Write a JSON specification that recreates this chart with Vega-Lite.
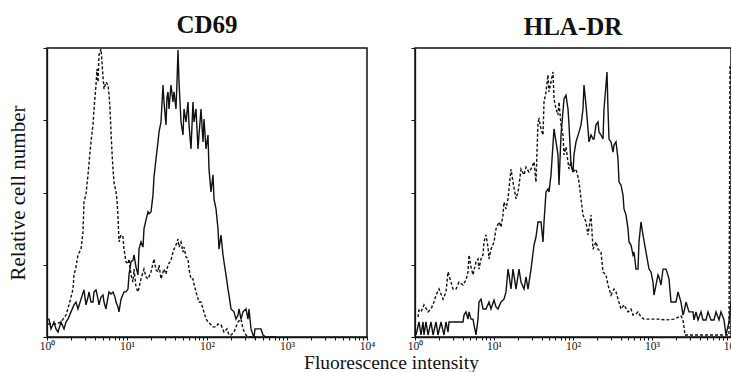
{
  "$schema": "https://vega.github.io/schema/vega-lite/v6.json",
  "background": "white",
  "padding": {"left": 6, "top": 12, "right": 0, "bottom": 0},
  "bounds": "flush",
  "spacing": 48,
  "config": {
    "font": "Liberation Serif",
    "view": {"stroke": "#111", "strokeWidth": 1.5},
    "axis": {"grid": false, "domainColor": "#111", "domainWidth": 1.3, "tickColor": "#111", "labelColor": "#111", "titleColor": "#111", "labelFont": "Liberation Serif", "titleFont": "Liberation Serif", "titleFontWeight": "normal"},
    "title": {"font": "Liberation Serif", "fontSize": 25, "fontWeight": "bold", "color": "#111"},
    "line": {"color": "#111", "strokeWidth": 1.4, "clip": true}
  },
  "datasets": {
    "cd69_control": [
      {"intensity":1.03,"cells":4.5},{"intensity":1.296,"cells":4.5},{"intensity":1.496,"cells":5.2},{"intensity":1.728,"cells":7.6},{"intensity":1.884,"cells":11.1},{"intensity":1.995,"cells":13.8},{"intensity":2.113,"cells":16.6},{"intensity":2.175,"cells":21.5},{"intensity":2.304,"cells":24.2},{"intensity":2.441,"cells":28.4},{"intensity":2.661,"cells":30.4},{"intensity":2.818,"cells":36.3},{"intensity":2.9,"cells":46.7},{"intensity":3.072,"cells":49.5},{"intensity":3.255,"cells":56.1},{"intensity":3.447,"cells":64.0},{"intensity":3.548,"cells":67.5},{"intensity":3.758,"cells":73.4},{"intensity":3.868,"cells":78.9},{"intensity":4.097,"cells":87.2},{"intensity":4.217,"cells":92.7},{"intensity":4.34,"cells":88.2},{"intensity":4.467,"cells":97.6},{"intensity":4.732,"cells":99.7},{"intensity":4.87,"cells":95.2},{"intensity":5.012,"cells":90.0},{"intensity":5.158,"cells":85.8},{"intensity":5.464,"cells":88.2},{"intensity":5.788,"cells":87.2},{"intensity":5.957,"cells":84.1},{"intensity":6.131,"cells":78.9},{"intensity":6.31,"cells":70.9},{"intensity":6.494,"cells":64.0},{"intensity":6.683,"cells":58.1},{"intensity":6.879,"cells":53.6},{"intensity":7.286,"cells":50.2},{"intensity":7.499,"cells":47.4},{"intensity":7.718,"cells":41.5},{"intensity":7.943,"cells":32.9},{"intensity":8.414,"cells":35.3},{"intensity":8.913,"cells":34.6},{"intensity":9.173,"cells":30.4},{"intensity":9.716,"cells":26.0},{"intensity":10.29,"cells":25.3},{"intensity":10.59,"cells":27.0},{"intensity":11.22,"cells":21.5},{"intensity":11.89,"cells":19.0},{"intensity":12.24,"cells":23.5},{"intensity":12.96,"cells":17.3},{"intensity":13.73,"cells":15.6},{"intensity":14.96,"cells":20.1},{"intensity":16.31,"cells":23.5},{"intensity":17.28,"cells":20.8},{"intensity":18.3,"cells":20.1},{"intensity":19.95,"cells":22.5},{"intensity":21.75,"cells":27.0},{"intensity":23.04,"cells":23.2},{"intensity":24.41,"cells":22.5},{"intensity":25.12,"cells":24.9},{"intensity":26.61,"cells":20.1},{"intensity":29.0,"cells":23.5},{"intensity":30.72,"cells":21.8},{"intensity":32.55,"cells":24.9},{"intensity":35.48,"cells":26.6},{"intensity":37.58,"cells":29.4},{"intensity":38.68,"cells":30.4},{"intensity":40.97,"cells":31.8},{"intensity":43.4,"cells":33.9},{"intensity":44.67,"cells":31.1},{"intensity":47.32,"cells":32.9},{"intensity":50.12,"cells":29.4},{"intensity":51.58,"cells":31.1},{"intensity":54.64,"cells":27.7},{"intensity":57.88,"cells":27.0},{"intensity":59.57,"cells":23.5},{"intensity":63.1,"cells":20.1},{"intensity":66.83,"cells":20.1},{"intensity":68.79,"cells":18.3},{"intensity":72.86,"cells":15.6},{"intensity":79.43,"cells":12.1},{"intensity":84.14,"cells":12.1},{"intensity":89.13,"cells":9.7},{"intensity":91.73,"cells":8.7},{"intensity":97.16,"cells":6.2},{"intensity":102.9,"cells":5.2},{"intensity":112.2,"cells":4.2},{"intensity":118.9,"cells":3.5},{"intensity":129.6,"cells":3.5},{"intensity":137.3,"cells":4.5},{"intensity":149.6,"cells":4.2},{"intensity":163.1,"cells":1.7},{"intensity":177.8,"cells":2.8},{"intensity":188.4,"cells":0.7},{"intensity":199.5,"cells":0.7},{"intensity":217.5,"cells":1.7},{"intensity":230.4,"cells":3.5},{"intensity":244.1,"cells":5.2},{"intensity":266.1,"cells":6.2},{"intensity":281.8,"cells":2.8},{"intensity":307.2,"cells":0.7},{"intensity":335.0,"cells":0},{"intensity":421.7,"cells":0}
    ],
    "cd69_treated": [
      {"intensity":1.0,"cells":6.2},{"intensity":1.059,"cells":6.2},{"intensity":1.122,"cells":2.8},{"intensity":1.223,"cells":5.2},{"intensity":1.296,"cells":2.8},{"intensity":1.373,"cells":1.7},{"intensity":1.496,"cells":5.2},{"intensity":1.631,"cells":2.8},{"intensity":1.728,"cells":5.2},{"intensity":1.83,"cells":6.2},{"intensity":1.995,"cells":8.7},{"intensity":2.175,"cells":11.1},{"intensity":2.304,"cells":12.1},{"intensity":2.441,"cells":9.7},{"intensity":2.661,"cells":13.1},{"intensity":2.9,"cells":16.3},{"intensity":3.072,"cells":11.1},{"intensity":3.255,"cells":13.8},{"intensity":3.35,"cells":15.6},{"intensity":3.548,"cells":12.1},{"intensity":3.758,"cells":12.1},{"intensity":3.868,"cells":15.6},{"intensity":4.097,"cells":16.3},{"intensity":4.34,"cells":13.1},{"intensity":4.467,"cells":11.1},{"intensity":4.732,"cells":13.8},{"intensity":5.012,"cells":14.5},{"intensity":5.158,"cells":12.1},{"intensity":5.464,"cells":9.7},{"intensity":5.788,"cells":13.8},{"intensity":5.957,"cells":15.6},{"intensity":6.31,"cells":14.9},{"intensity":6.683,"cells":15.6},{"intensity":7.079,"cells":13.8},{"intensity":7.286,"cells":12.1},{"intensity":7.718,"cells":10.4},{"intensity":7.943,"cells":8.7},{"intensity":8.414,"cells":13.1},{"intensity":9.173,"cells":15.6},{"intensity":9.716,"cells":15.6},{"intensity":10.29,"cells":16.6},{"intensity":10.59,"cells":21.5},{"intensity":11.22,"cells":26.0},{"intensity":11.89,"cells":26.6},{"intensity":12.24,"cells":28.4},{"intensity":12.96,"cells":24.2},{"intensity":13.73,"cells":21.5},{"intensity":14.13,"cells":30.4},{"intensity":14.96,"cells":32.9},{"intensity":15.85,"cells":31.1},{"intensity":16.31,"cells":37.4},{"intensity":17.28,"cells":40.5},{"intensity":18.3,"cells":43.3},{"intensity":18.84,"cells":42.6},{"intensity":19.95,"cells":43.3},{"intensity":21.13,"cells":49.1},{"intensity":21.75,"cells":55.4},{"intensity":23.04,"cells":61.6},{"intensity":24.41,"cells":67.5},{"intensity":25.12,"cells":70.9},{"intensity":26.61,"cells":74.4},{"intensity":28.18,"cells":87.2},{"intensity":29.0,"cells":81.3},{"intensity":30.72,"cells":73.4},{"intensity":31.62,"cells":83.0},{"intensity":32.55,"cells":84.8},{"intensity":33.5,"cells":78.9},{"intensity":35.48,"cells":87.2},{"intensity":37.58,"cells":81.3},{"intensity":38.68,"cells":84.8},{"intensity":40.97,"cells":78.9},{"intensity":42.17,"cells":88.2},{"intensity":43.4,"cells":99.3},{"intensity":44.67,"cells":88.2},{"intensity":47.32,"cells":74.4},{"intensity":50.12,"cells":69.9},{"intensity":51.58,"cells":78.9},{"intensity":54.64,"cells":74.4},{"intensity":57.88,"cells":81.3},{"intensity":59.57,"cells":73.4},{"intensity":63.1,"cells":65.1},{"intensity":66.83,"cells":81.3},{"intensity":68.79,"cells":74.4},{"intensity":72.86,"cells":78.9},{"intensity":77.18,"cells":65.1},{"intensity":79.43,"cells":69.9},{"intensity":84.14,"cells":78.9},{"intensity":89.13,"cells":67.5},{"intensity":91.73,"cells":75.4},{"intensity":97.16,"cells":65.1},{"intensity":102.9,"cells":69.9},{"intensity":105.9,"cells":58.1},{"intensity":112.2,"cells":50.2},{"intensity":118.9,"cells":56.1},{"intensity":122.3,"cells":47.8},{"intensity":129.6,"cells":44.3},{"intensity":137.3,"cells":37.4},{"intensity":141.3,"cells":30.4},{"intensity":149.6,"cells":35.3},{"intensity":158.5,"cells":28.4},{"intensity":163.1,"cells":26.0},{"intensity":172.8,"cells":21.5},{"intensity":183.0,"cells":16.6},{"intensity":188.4,"cells":14.5},{"intensity":199.5,"cells":9.7},{"intensity":217.5,"cells":8.7},{"intensity":230.4,"cells":6.2},{"intensity":244.1,"cells":7.6},{"intensity":251.2,"cells":9.7},{"intensity":266.1,"cells":6.2},{"intensity":281.8,"cells":8.7},{"intensity":307.2,"cells":9.7},{"intensity":325.5,"cells":6.2},{"intensity":335.0,"cells":9.7},{"intensity":354.8,"cells":2.8},{"intensity":375.8,"cells":0.7},{"intensity":386.8,"cells":0},{"intensity":398.1,"cells":2.8},{"intensity":473.2,"cells":2.8},{"intensity":501.2,"cells":0.7},{"intensity":546.4,"cells":0},{"intensity":728.6,"cells":0}
    ],
    "hladr_control": [
      {"intensity":1.091,"cells":6.9},{"intensity":1.124,"cells":9.3},{"intensity":1.191,"cells":8.7},{"intensity":1.3,"cells":11.1},{"intensity":1.461,"cells":8.7},{"intensity":1.594,"cells":9.7},{"intensity":1.74,"cells":12.1},{"intensity":1.845,"cells":14.5},{"intensity":2.013,"cells":16.6},{"intensity":2.134,"cells":14.9},{"intensity":2.262,"cells":13.1},{"intensity":2.469,"cells":15.6},{"intensity":2.617,"cells":22.5},{"intensity":2.855,"cells":19.0},{"intensity":3.027,"cells":16.6},{"intensity":3.304,"cells":16.6},{"intensity":3.606,"cells":19.0},{"intensity":4.052,"cells":18.0},{"intensity":4.422,"cells":19.7},{"intensity":4.688,"cells":22.5},{"intensity":4.826,"cells":28.4},{"intensity":5.115,"cells":24.2},{"intensity":5.423,"cells":21.5},{"intensity":5.918,"cells":26.0},{"intensity":6.273,"cells":27.0},{"intensity":6.459,"cells":23.5},{"intensity":6.846,"cells":27.0},{"intensity":7.257,"cells":28.4},{"intensity":7.471,"cells":32.9},{"intensity":7.918,"cells":35.3},{"intensity":8.397,"cells":31.1},{"intensity":8.645,"cells":27.0},{"intensity":9.164,"cells":30.4},{"intensity":10.0,"cells":32.9},{"intensity":10.6,"cells":37.4},{"intensity":11.57,"cells":39.8},{"intensity":12.26,"cells":38.1},{"intensity":13.0,"cells":42.2},{"intensity":13.38,"cells":46.7},{"intensity":14.19,"cells":44.3},{"intensity":15.04,"cells":47.8},{"intensity":15.48,"cells":51.2},{"intensity":16.42,"cells":58.1},{"intensity":17.4,"cells":53.6},{"intensity":18.99,"cells":47.8},{"intensity":20.13,"cells":50.2},{"intensity":20.73,"cells":52.6},{"intensity":21.97,"cells":58.1},{"intensity":23.98,"cells":56.1},{"intensity":25.42,"cells":58.8},{"intensity":27.73,"cells":57.1},{"intensity":29.41,"cells":58.1},{"intensity":32.09,"cells":60.6},{"intensity":34.01,"cells":53.6},{"intensity":36.06,"cells":74.4},{"intensity":37.13,"cells":75.4},{"intensity":39.36,"cells":72.0},{"intensity":41.72,"cells":69.9},{"intensity":42.96,"cells":81.3},{"intensity":45.53,"cells":84.8},{"intensity":48.26,"cells":90.7},{"intensity":49.69,"cells":84.8},{"intensity":52.67,"cells":88.2},{"intensity":55.83,"cells":91.7},{"intensity":57.48,"cells":82.4},{"intensity":60.93,"cells":78.9},{"intensity":64.58,"cells":76.8},{"intensity":66.49,"cells":81.3},{"intensity":70.48,"cells":73.4},{"intensity":74.7,"cells":69.9},{"intensity":76.91,"cells":63.0},{"intensity":81.52,"cells":65.7},{"intensity":88.99,"cells":58.1},{"intensity":94.33,"cells":60.6},{"intensity":100,"cells":57.1},{"intensity":109.1,"cells":58.1},{"intensity":115.7,"cells":55.4},{"intensity":119.1,"cells":53.6},{"intensity":126.3,"cells":47.8},{"intensity":133.8,"cells":42.2},{"intensity":146.0,"cells":39.8},{"intensity":154.8,"cells":35.3},{"intensity":169.0,"cells":42.2},{"intensity":179.2,"cells":30.4},{"intensity":195.5,"cells":32.9},{"intensity":207.3,"cells":30.4},{"intensity":226.1,"cells":29.4},{"intensity":239.7,"cells":22.5},{"intensity":261.6,"cells":21.5},{"intensity":277.3,"cells":18.0},{"intensity":302.7,"cells":14.5},{"intensity":330.4,"cells":16.6},{"intensity":350.2,"cells":15.6},{"intensity":371.2,"cells":13.1},{"intensity":405.1,"cells":9.7},{"intensity":442.2,"cells":11.1},{"intensity":496.8,"cells":8.7},{"intensity":542.3,"cells":9.7},{"intensity":574.8,"cells":7.6},{"intensity":627.3,"cells":8.0},{"intensity":665.0,"cells":8.7},{"intensity":725.7,"cells":6.9},{"intensity":792.0,"cells":6.2},{"intensity":971.2,"cells":6.2},{"intensity":1191,"cells":6.2},{"intensity":1504,"cells":5.9},{"intensity":1899,"cells":6.2},{"intensity":2329,"cells":7.3},{"intensity":2469,"cells":5.9},{"intensity":2617,"cells":0.7},{"intensity":4172,"cells":0.7},{"intensity":7470,"cells":0.7},{"intensity":9434,"cells":0.7},{"intensity":9712,"cells":94.1}
    ],
    "hladr_treated": [
      {"intensity":1.03,"cells":0.7},{"intensity":1.124,"cells":5.2},{"intensity":1.191,"cells":0.7},{"intensity":1.263,"cells":5.2},{"intensity":1.3,"cells":0.7},{"intensity":1.378,"cells":5.2},{"intensity":1.461,"cells":0.7},{"intensity":1.594,"cells":5.2},{"intensity":1.69,"cells":0.7},{"intensity":1.845,"cells":5.2},{"intensity":1.955,"cells":0.7},{"intensity":2.134,"cells":5.2},{"intensity":2.329,"cells":0.7},{"intensity":2.469,"cells":5.2},{"intensity":2.617,"cells":1.7},{"intensity":2.694,"cells":5.2},{"intensity":4.052,"cells":5.2},{"intensity":4.172,"cells":7.6},{"intensity":4.422,"cells":8.7},{"intensity":4.688,"cells":6.2},{"intensity":4.826,"cells":8.7},{"intensity":5.115,"cells":6.2},{"intensity":5.423,"cells":6.2},{"intensity":5.583,"cells":4.2},{"intensity":5.918,"cells":0.7},{"intensity":6.273,"cells":6.2},{"intensity":6.459,"cells":12.1},{"intensity":6.846,"cells":13.1},{"intensity":7.257,"cells":9.7},{"intensity":7.918,"cells":9.7},{"intensity":8.645,"cells":12.1},{"intensity":9.164,"cells":9.7},{"intensity":10.0,"cells":12.8},{"intensity":10.6,"cells":10.4},{"intensity":11.24,"cells":9.7},{"intensity":12.26,"cells":12.1},{"intensity":13.38,"cells":13.1},{"intensity":14.19,"cells":15.6},{"intensity":15.04,"cells":23.5},{"intensity":15.48,"cells":21.5},{"intensity":16.42,"cells":16.6},{"intensity":17.4,"cells":23.5},{"intensity":18.44,"cells":19.0},{"intensity":18.99,"cells":16.6},{"intensity":20.73,"cells":23.5},{"intensity":21.97,"cells":19.0},{"intensity":23.98,"cells":16.6},{"intensity":25.42,"cells":20.8},{"intensity":26.94,"cells":16.6},{"intensity":29.41,"cells":23.5},{"intensity":32.09,"cells":31.8},{"intensity":34.01,"cells":34.6},{"intensity":36.06,"cells":39.8},{"intensity":39.36,"cells":39.8},{"intensity":41.72,"cells":32.9},{"intensity":42.96,"cells":39.8},{"intensity":45.53,"cells":50.2},{"intensity":48.26,"cells":51.2},{"intensity":49.69,"cells":50.2},{"intensity":52.67,"cells":56.1},{"intensity":57.48,"cells":72.0},{"intensity":60.93,"cells":67.5},{"intensity":64.58,"cells":63.0},{"intensity":66.49,"cells":52.6},{"intensity":70.48,"cells":69.9},{"intensity":76.91,"cells":82.4},{"intensity":81.52,"cells":83.7},{"intensity":86.44,"cells":78.9},{"intensity":88.99,"cells":73.4},{"intensity":94.33,"cells":59.5},{"intensity":100,"cells":57.1},{"intensity":102.9,"cells":63.0},{"intensity":109.1,"cells":67.5},{"intensity":119.1,"cells":70.9},{"intensity":126.3,"cells":73.4},{"intensity":133.8,"cells":78.9},{"intensity":137.8,"cells":87.2},{"intensity":146.0,"cells":80.3},{"intensity":154.8,"cells":72.0},{"intensity":159.4,"cells":67.5},{"intensity":169.0,"cells":69.9},{"intensity":179.2,"cells":68.5},{"intensity":184.5,"cells":68.5},{"intensity":195.5,"cells":73.4},{"intensity":207.3,"cells":74.4},{"intensity":213.4,"cells":70.9},{"intensity":226.1,"cells":69.9},{"intensity":239.7,"cells":68.5},{"intensity":246.8,"cells":78.9},{"intensity":261.6,"cells":87.2},{"intensity":269.4,"cells":91.7},{"intensity":277.3,"cells":78.9},{"intensity":285.6,"cells":68.5},{"intensity":302.7,"cells":67.5},{"intensity":320.9,"cells":64.0},{"intensity":330.4,"cells":66.4},{"intensity":350.2,"cells":67.5},{"intensity":371.2,"cells":61.6},{"intensity":382.2,"cells":53.6},{"intensity":405.1,"cells":52.6},{"intensity":429.5,"cells":49.1},{"intensity":442.2,"cells":44.3},{"intensity":468.8,"cells":42.2},{"intensity":496.8,"cells":37.4},{"intensity":511.6,"cells":32.9},{"intensity":542.3,"cells":31.8},{"intensity":574.8,"cells":28.4},{"intensity":591.8,"cells":29.4},{"intensity":627.3,"cells":23.5},{"intensity":665.0,"cells":23.5},{"intensity":684.6,"cells":32.9},{"intensity":725.7,"cells":39.8},{"intensity":769.3,"cells":35.3},{"intensity":839.7,"cells":29.4},{"intensity":916.4,"cells":23.5},{"intensity":971.2,"cells":22.5},{"intensity":1030,"cells":19.0},{"intensity":1060,"cells":14.5},{"intensity":1124,"cells":18.0},{"intensity":1191,"cells":21.5},{"intensity":1226,"cells":20.8},{"intensity":1300,"cells":18.0},{"intensity":1378,"cells":23.5},{"intensity":1504,"cells":23.5},{"intensity":1642,"cells":20.1},{"intensity":1740,"cells":12.1},{"intensity":2013,"cells":12.1},{"intensity":2134,"cells":15.6},{"intensity":2329,"cells":12.1},{"intensity":2469,"cells":7.6},{"intensity":2542,"cells":8.7},{"intensity":2694,"cells":12.1},{"intensity":2941,"cells":8.7},{"intensity":3304,"cells":8.7},{"intensity":3401,"cells":5.9},{"intensity":3606,"cells":8.7},{"intensity":3822,"cells":5.9},{"intensity":4172,"cells":8.7},{"intensity":4422,"cells":5.9},{"intensity":4826,"cells":5.9},{"intensity":5115,"cells":8.7},{"intensity":5583,"cells":5.9},{"intensity":6093,"cells":5.9},{"intensity":6458,"cells":8.7},{"intensity":7048,"cells":5.9},{"intensity":7470,"cells":8.7},{"intensity":8152,"cells":5.9},{"intensity":8645,"cells":0.7},{"intensity":9434,"cells":5.2},{"intensity":10000,"cells":12.1}
    ]
  },
  "hconcat": [
    {
      "width": 320,
      "height": 289,
      "title": {"text": "CD69", "baseline": "bottom", "offset": -17},
      "encoding": {
        "x": {"field": "intensity", "type": "quantitative", "scale": {"type": "log", "domain": [1, 10000], "nice": false},
          "axis": {"title": "Fluorescence intensity", "titleFontSize": 19.5, "titleX": 344, "titleY": 25, "titleAlign": "center", "titleBaseline": "middle",
            "values": [1,2,3,4,5,6,7,8,9,10,20,30,40,50,60,70,80,90,100,200,300,400,500,600,700,800,900,1000,2000,3000,4000,5000,6000,7000,8000,9000,10000],
            "labelExpr": "datum.value == 1 ? '10⁰' : datum.value == 10 ? '10¹' : datum.value == 100 ? '10²' : datum.value == 1000 ? '10³' : datum.value == 10000 ? '10⁴' : ''",
            "labelFontSize": 11.5, "labelPadding": 0, "tickSize": 3, "labelFlush": false, "labelOverlap": false}},
        "y": {"field": "cells", "type": "quantitative", "scale": {"domain": [0, 100], "nice": false},
          "axis": {"title": "Relative cell number", "titleFontSize": 21, "titlePadding": 14, "labels": false, "tickSize": 4, "values": [0, 25, 50, 75, 100]}}
      },
      "layer": [
        {"data": {"name": "cd69_control"}, "mark": {"type": "line", "strokeDash": [3, 2]}},
        {"data": {"name": "cd69_treated"}, "mark": {"type": "line"}}
      ]
    },
    {
      "width": 316,
      "height": 289,
      "title": {"text": "HLA-DR", "baseline": "bottom", "offset": -17},
      "encoding": {
        "x": {"field": "intensity", "type": "quantitative", "scale": {"type": "log", "domain": [1, 10000], "nice": false},
          "axis": {"title": null,
            "values": [1,2,3,4,5,6,7,8,9,10,20,30,40,50,60,70,80,90,100,200,300,400,500,600,700,800,900,1000,2000,3000,4000,5000,6000,7000,8000,9000,10000],
            "labelExpr": "datum.value == 1 ? '10⁰' : datum.value == 10 ? '10¹' : datum.value == 100 ? '10²' : datum.value == 1000 ? '10³' : datum.value == 10000 ? '10⁴' : ''",
            "labelFontSize": 11.5, "labelPadding": 0, "tickSize": 3, "labelFlush": false, "labelOverlap": false}},
        "y": {"field": "cells", "type": "quantitative", "scale": {"domain": [0, 100], "nice": false},
          "axis": {"title": null, "labels": false, "tickSize": 4, "values": [0, 25, 50, 75, 100]}}
      },
      "layer": [
        {"data": {"name": "hladr_control"}, "mark": {"type": "line", "strokeDash": [3, 2]}},
        {"data": {"name": "hladr_treated"}, "mark": {"type": "line"}}
      ]
    }
  ]
}
